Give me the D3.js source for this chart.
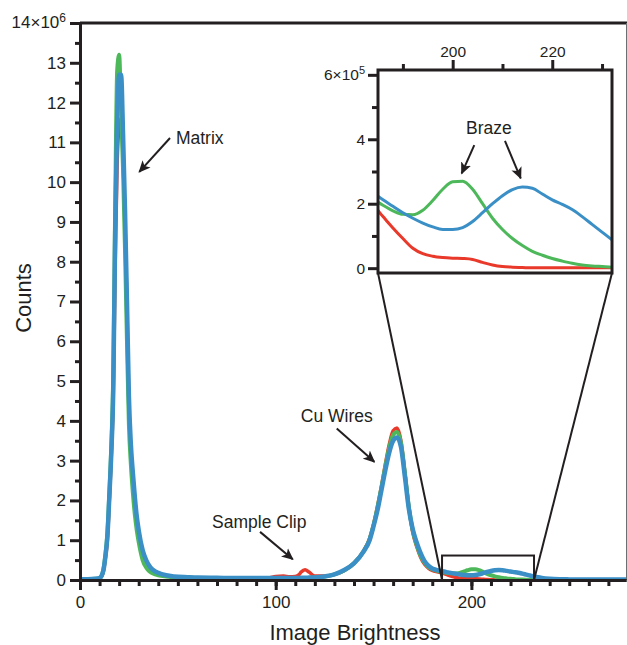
<!DOCTYPE html>
<html lang="en">
<head>
<meta charset="utf-8">
<title>Image Brightness Histogram</title>
<script src="https://d3js.org/d3.v7.min.js"></script>
<style>
  body { margin: 0; background: #fff; }
  svg { display: block; font-family: "Liberation Sans", Arial, Helvetica, sans-serif; }
  .axis text { font-size: 17px; fill: #231f20; }
  .inset-axis text { font-size: 15.5px; fill: #231f20; }
  .note { font-size: 17.5px; fill: #231f20; }
</style>
</head>
<body>
<div id="chart"></div>
<script>
// brightness bins (x) and counts (10^6) for the three scans
var brightness = [
  0, 4, 8, 10, 11, 12, 13, 14, 15, 16,
  17, 18, 19, 20, 21, 22, 23, 24, 25, 26,
  27, 28, 29, 30, 32, 34, 36, 38, 40, 44,
  48, 55, 60, 70, 80, 90, 96, 100, 104, 107,
  110, 112, 113, 115, 117, 120, 125, 130, 135, 140,
  145, 148, 150, 152, 154, 156, 158, 160, 162, 164,
  166, 168, 170, 172, 174, 176, 178, 180, 182, 184,
  186, 188, 190, 192, 194, 196, 198, 200, 202, 204,
  206, 208, 210, 212, 214, 216, 218, 220, 222, 224,
  226, 228, 230, 232, 234, 236, 240, 245, 250, 260,
  270, 279
];
var redCounts = [
  0.02, 0.02, 0.03, 0.05, 0.09, 0.22, 0.55, 1.0, 2.0, 3.1,
  4.6, 8.0, 10.5, 11.4, 11.6, 10.6, 9.0, 6.8, 4.4, 3.3,
  2.6, 2.0, 1.55, 1.2, 0.72, 0.45, 0.3, 0.22, 0.17, 0.11,
  0.08, 0.06, 0.055, 0.05, 0.05, 0.05, 0.05, 0.09, 0.1, 0.08,
  0.09, 0.14, 0.2, 0.26, 0.2, 0.1, 0.1, 0.14, 0.24, 0.42,
  0.74, 1.05, 1.4, 1.85, 2.35, 2.9, 3.4, 3.75, 3.82, 3.5,
  2.7, 1.85, 1.2, 0.85, 0.58, 0.4, 0.3, 0.24, 0.21, 0.195,
  0.16, 0.125, 0.092, 0.062, 0.045, 0.037, 0.033, 0.031, 0.03, 0.027,
  0.018, 0.01, 0.005, 0.003, 0.002, 0.001, 0.001, 0.001, 0.001, 0.001,
  0.001, 0.001, 0.001, 0.001, 0.001, 0.001, 0.001, 0.001, 0.001, 0.001,
  0.001, 0.001
];
var greenCounts = [
  0.02, 0.02, 0.03, 0.05, 0.1, 0.28, 0.65, 1.2, 2.2, 3.4,
  5.2, 9.5, 12.8, 13.2, 11.8, 10.3, 8.3, 6.0, 3.9, 2.9,
  2.2, 1.65, 1.25, 0.95, 0.5, 0.3, 0.2, 0.15, 0.12, 0.09,
  0.07, 0.06, 0.05, 0.045, 0.04, 0.04, 0.04, 0.04, 0.04, 0.04,
  0.04, 0.04, 0.045, 0.045, 0.05, 0.06, 0.085, 0.14, 0.24, 0.42,
  0.73, 1.03, 1.38, 1.82, 2.32, 2.85, 3.32, 3.65, 3.72, 3.45,
  2.7, 1.85, 1.25, 0.88, 0.62, 0.44, 0.33, 0.27, 0.235, 0.215,
  0.195, 0.178, 0.167, 0.166, 0.18, 0.21, 0.245, 0.268, 0.27, 0.245,
  0.2, 0.155, 0.12, 0.092, 0.07, 0.052, 0.04, 0.03, 0.022, 0.015,
  0.01, 0.007, 0.005, 0.003, 0.003, 0.002, 0.002, 0.002, 0.002, 0.002,
  0.002, 0.002
];
var blueCounts = [
  0.02, 0.02, 0.03, 0.05, 0.1, 0.25, 0.6, 1.1, 2.1, 3.2,
  4.8, 8.8, 11.5, 12.7, 12.7, 11.2, 9.3, 7.0, 4.6, 3.4,
  2.7, 2.1, 1.6, 1.25, 0.75, 0.48, 0.32, 0.23, 0.18, 0.12,
  0.09, 0.07, 0.06, 0.055, 0.05, 0.05, 0.05, 0.05, 0.05, 0.05,
  0.05, 0.05, 0.055, 0.055, 0.06, 0.065, 0.09, 0.14, 0.25, 0.42,
  0.72, 1.0, 1.35, 1.75, 2.25, 2.75, 3.2, 3.5, 3.58, 3.35,
  2.6, 1.8, 1.28, 0.95, 0.68, 0.48, 0.36, 0.29, 0.255, 0.235,
  0.212, 0.192, 0.172, 0.155, 0.14, 0.128, 0.12, 0.12, 0.126, 0.145,
  0.172, 0.2, 0.225, 0.244, 0.252, 0.248, 0.23, 0.212, 0.198, 0.182,
  0.16, 0.136, 0.112, 0.088, 0.068, 0.052, 0.032, 0.02, 0.015, 0.01,
  0.01, 0.01
];

var seriesNames = ["red", "green", "blue"];
var seriesColors = ["#e8392b", "#4db85a", "#3a8fc6"];
var seriesValues = [redCounts, greenCounts, blueCounts];

var yMajorTicks = [0, 1, 2, 3, 4, 5, 6, 7, 8, 9, 10, 11, 12, 13, 14];
var xMajorTicks = [0, 100, 200];
var insetXTicks = [200, 220];
var insetYTicks = [0, 2, 4, 6];

// inset window (brightness range, counts in 10^5)
var zoomRange = [185, 232];
var zoomTop = 0.615;

var width = 627, height = 645;

var svg = d3.select("#chart").append("svg")
  .attr("width", width)
  .attr("height", height);

var x = d3.scaleLinear().domain([0, 279]).range([80, 626]);
var y = d3.scaleLinear().domain([0, 14]).range([580, 23]);

var ix = d3.scaleLinear().domain(zoomRange).range([378, 612]);
var iy = d3.scaleLinear().domain([-0.15, 6.15]).range([273, 70]);

var series = seriesNames.map(function(name, i) {
  return {
    name: name,
    color: seriesColors[i],
    points: brightness.map(function(b, j) { return {b: b, v: seriesValues[i][j]}; })
  };
});

svg.append("defs").append("marker")
  .attr("id", "arrow")
  .attr("viewBox", "0 -5 10 10")
  .attr("refX", 9)
  .attr("refY", 0)
  .attr("markerUnits", "userSpaceOnUse")
  .attr("markerWidth", 12)
  .attr("markerHeight", 12)
  .attr("orient", "auto")
  .append("path")
  .attr("d", "M0,-4.5L10,0L0,4.5L2.5,0Z")
  .attr("fill", "#231f20");

svg.select("defs").append("clipPath")
  .attr("id", "insetClip")
  .append("rect")
  .attr("x", ix.range()[0]).attr("y", iy.range()[1])
  .attr("width", ix.range()[1] - ix.range()[0])
  .attr("height", iy.range()[0] - iy.range()[1]);

// main curves
var line = d3.line()
  .x(function(d) { return x(d.b); })
  .y(function(d) { return y(d.v); })
  .curve(d3.curveMonotoneX);

var mainWidths = [3.5, 4, 4.5];
svg.append("g").selectAll("path")
  .data(series)
  .join("path")
  .attr("fill", "none")
  .attr("stroke", function(d) { return d.color; })
  .attr("stroke-width", function(d, i) { return mainWidths[i]; })
  .attr("d", function(d) { return line(d.points); });

// frame top & right
svg.append("line")
  .attr("x1", x(0)).attr("x2", width).attr("y1", y(14)).attr("y2", y(14))
  .attr("stroke", "#231f20").attr("stroke-width", 3);
svg.append("line")
  .attr("x1", 626.5).attr("x2", 626.5).attr("y1", y(14)).attr("y2", y(0))
  .attr("stroke", "#6d6e71").attr("stroke-width", 1);

function styleAxis(g) {
  g.select(".domain").attr("stroke", "#231f20").attr("stroke-width", 3);
  g.selectAll(".tick line").attr("stroke", "#231f20").attr("stroke-width", 3);
  g.attr("font-family", null).attr("font-size", null);
}

// y axis
svg.append("g")
  .attr("transform", "translate(" + x(0) + ",0)")
  .call(d3.axisLeft(y).tickValues(d3.range(0.5, 14, 1)).tickSize(5).tickSizeOuter(0).tickFormat(""))
  .call(styleAxis);
svg.append("g")
  .attr("class", "axis")
  .attr("transform", "translate(" + x(0) + ",0)")
  .call(d3.axisLeft(y).tickValues(yMajorTicks).tickSize(10).tickPadding(4).tickSizeOuter(0)
    .tickFormat(function(d) { return d === 14 ? "" : d; }))
  .call(styleAxis);

var topLabel = svg.append("text")
  .attr("class", "axis")
  .attr("x", x(0) - 14)
  .attr("y", y(14))
  .attr("dy", "0.32em")
  .attr("text-anchor", "end")
  .style("font-size", "17px")
  .attr("fill", "#231f20");
topLabel.append("tspan").text("14×10");
topLabel.append("tspan").attr("dy", "-0.55em").style("font-size", "12px").text("6");

// x axis
svg.append("g")
  .attr("transform", "translate(0," + y(0) + ")")
  .call(d3.axisBottom(x).tickValues(d3.range(10, 280, 10)).tickSize(6).tickSizeOuter(0).tickFormat(""))
  .call(styleAxis);
svg.append("g")
  .attr("class", "axis")
  .attr("transform", "translate(0," + y(0) + ")")
  .call(d3.axisBottom(x).tickValues(xMajorTicks).tickSize(10).tickPadding(6).tickSizeOuter(0))
  .call(styleAxis);

// axis titles
svg.append("text")
  .attr("x", (x(0) + 626) / 2 + 2)
  .attr("y", 640)
  .attr("text-anchor", "middle")
  .style("font-size", "22px")
  .attr("fill", "#231f20")
  .text("Image Brightness");

svg.append("text")
  .attr("transform", "translate(31,298) rotate(-90)")
  .attr("text-anchor", "middle")
  .style("font-size", "22px")
  .attr("fill", "#231f20")
  .text("Counts");

// zoom box and connectors
svg.append("rect")
  .attr("x", x(zoomRange[0]))
  .attr("y", y(zoomTop))
  .attr("width", x(zoomRange[1]) - x(zoomRange[0]))
  .attr("height", y(0) - y(zoomTop))
  .attr("fill", "none")
  .attr("stroke", "#231f20")
  .attr("stroke-width", 2);

svg.append("line")
  .attr("x1", ix(zoomRange[0])).attr("y1", iy.range()[0])
  .attr("x2", x(zoomRange[0])).attr("y2", y(0))
  .attr("stroke", "#231f20").attr("stroke-width", 2);
svg.append("line")
  .attr("x1", ix(zoomRange[1])).attr("y1", iy.range()[0])
  .attr("x2", x(zoomRange[1])).attr("y2", y(0))
  .attr("stroke", "#231f20").attr("stroke-width", 2);

// inset
var inset = svg.append("g");
inset.append("rect")
  .attr("x", ix.range()[0]).attr("y", iy.range()[1])
  .attr("width", ix.range()[1] - ix.range()[0])
  .attr("height", iy.range()[0] - iy.range()[1])
  .attr("fill", "#fff");

var insetLine = d3.line()
  .x(function(d) { return ix(d.b); })
  .y(function(d) { return iy(d.v * 10); })
  .curve(d3.curveMonotoneX);

inset.append("g")
  .attr("clip-path", "url(#insetClip)")
  .selectAll("path")
  .data(series)
  .join("path")
  .attr("fill", "none")
  .attr("stroke", function(d) { return d.color; })
  .attr("stroke-width", 3)
  .attr("d", function(d) { return insetLine(d.points.filter(function(p) { return p.b >= 180 && p.b <= 236; })); });

inset.append("rect")
  .attr("x", ix.range()[0]).attr("y", iy.range()[1])
  .attr("width", ix.range()[1] - ix.range()[0])
  .attr("height", iy.range()[0] - iy.range()[1])
  .attr("fill", "none")
  .attr("stroke", "#231f20")
  .attr("stroke-width", 3);

inset.append("g")
  .attr("transform", "translate(0," + iy.range()[1] + ")")
  .call(d3.axisTop(ix).tickValues([190, 210, 230]).tickSize(6).tickSizeOuter(0).tickFormat(""))
  .call(styleAxis);
inset.append("g")
  .attr("class", "inset-axis")
  .attr("transform", "translate(0," + iy.range()[1] + ")")
  .call(d3.axisTop(ix).tickValues(insetXTicks).tickSize(10).tickPadding(3).tickSizeOuter(0))
  .call(styleAxis);

inset.append("g")
  .attr("transform", "translate(" + ix.range()[0] + ",0)")
  .call(d3.axisLeft(iy).tickValues([1, 3, 5]).tickSize(6).tickSizeOuter(0).tickFormat(""))
  .call(styleAxis);
inset.append("g")
  .attr("class", "inset-axis")
  .attr("transform", "translate(" + ix.range()[0] + ",0)")
  .call(d3.axisLeft(iy).tickValues(insetYTicks).tickSize(10).tickPadding(3).tickSizeOuter(0)
    .tickFormat(function(d) { return d === 6 ? "" : d; }))
  .call(styleAxis);
inset.selectAll(".domain").remove();

var insetTop = inset.append("text")
  .attr("x", ix.range()[0] - 13)
  .attr("y", iy(6))
  .attr("dy", "0.32em")
  .attr("text-anchor", "end")
  .style("font-size", "15.5px")
  .attr("fill", "#231f20");
insetTop.append("tspan").text("6×10");
insetTop.append("tspan").attr("dy", "-0.55em").style("font-size", "11px").text("5");

// annotations (positions in data units)
function arrow(sx, sy, x1, y1, x2, y2) {
  svg.append("line")
    .attr("x1", sx(x1)).attr("y1", sy(y1))
    .attr("x2", sx(x2)).attr("y2", sy(y2))
    .attr("stroke", "#231f20")
    .attr("stroke-width", 2)
    .attr("marker-end", "url(#arrow)");
}
function note(sx, sy, tx, ty, anchor, label) {
  svg.append("text")
    .attr("class", "note")
    .attr("x", sx(tx)).attr("y", sy(ty))
    .attr("text-anchor", anchor)
    .text(label);
}

note(x, y, 49.0, 10.96, "start", "Matrix");
arrow(x, y, 46.0, 11.11, 30.3, 10.26);

note(x, y, 149.6, 3.98, "end", "Cu Wires");
arrow(x, y, 131.2, 3.81, 150.4, 2.97);

note(x, y, 67.5, 1.31, "start", "Sample Clip");
arrow(x, y, 92.0, 1.21, 108.7, 0.52);

note(ix, iy, 202.67, 4.16, "start", "Braze");
arrow(ix, iy, 204.34, 3.82, 201.81, 2.94);
arrow(ix, iy, 210.5, 3.95, 213.66, 2.79);
</script>
</body>
</html>
